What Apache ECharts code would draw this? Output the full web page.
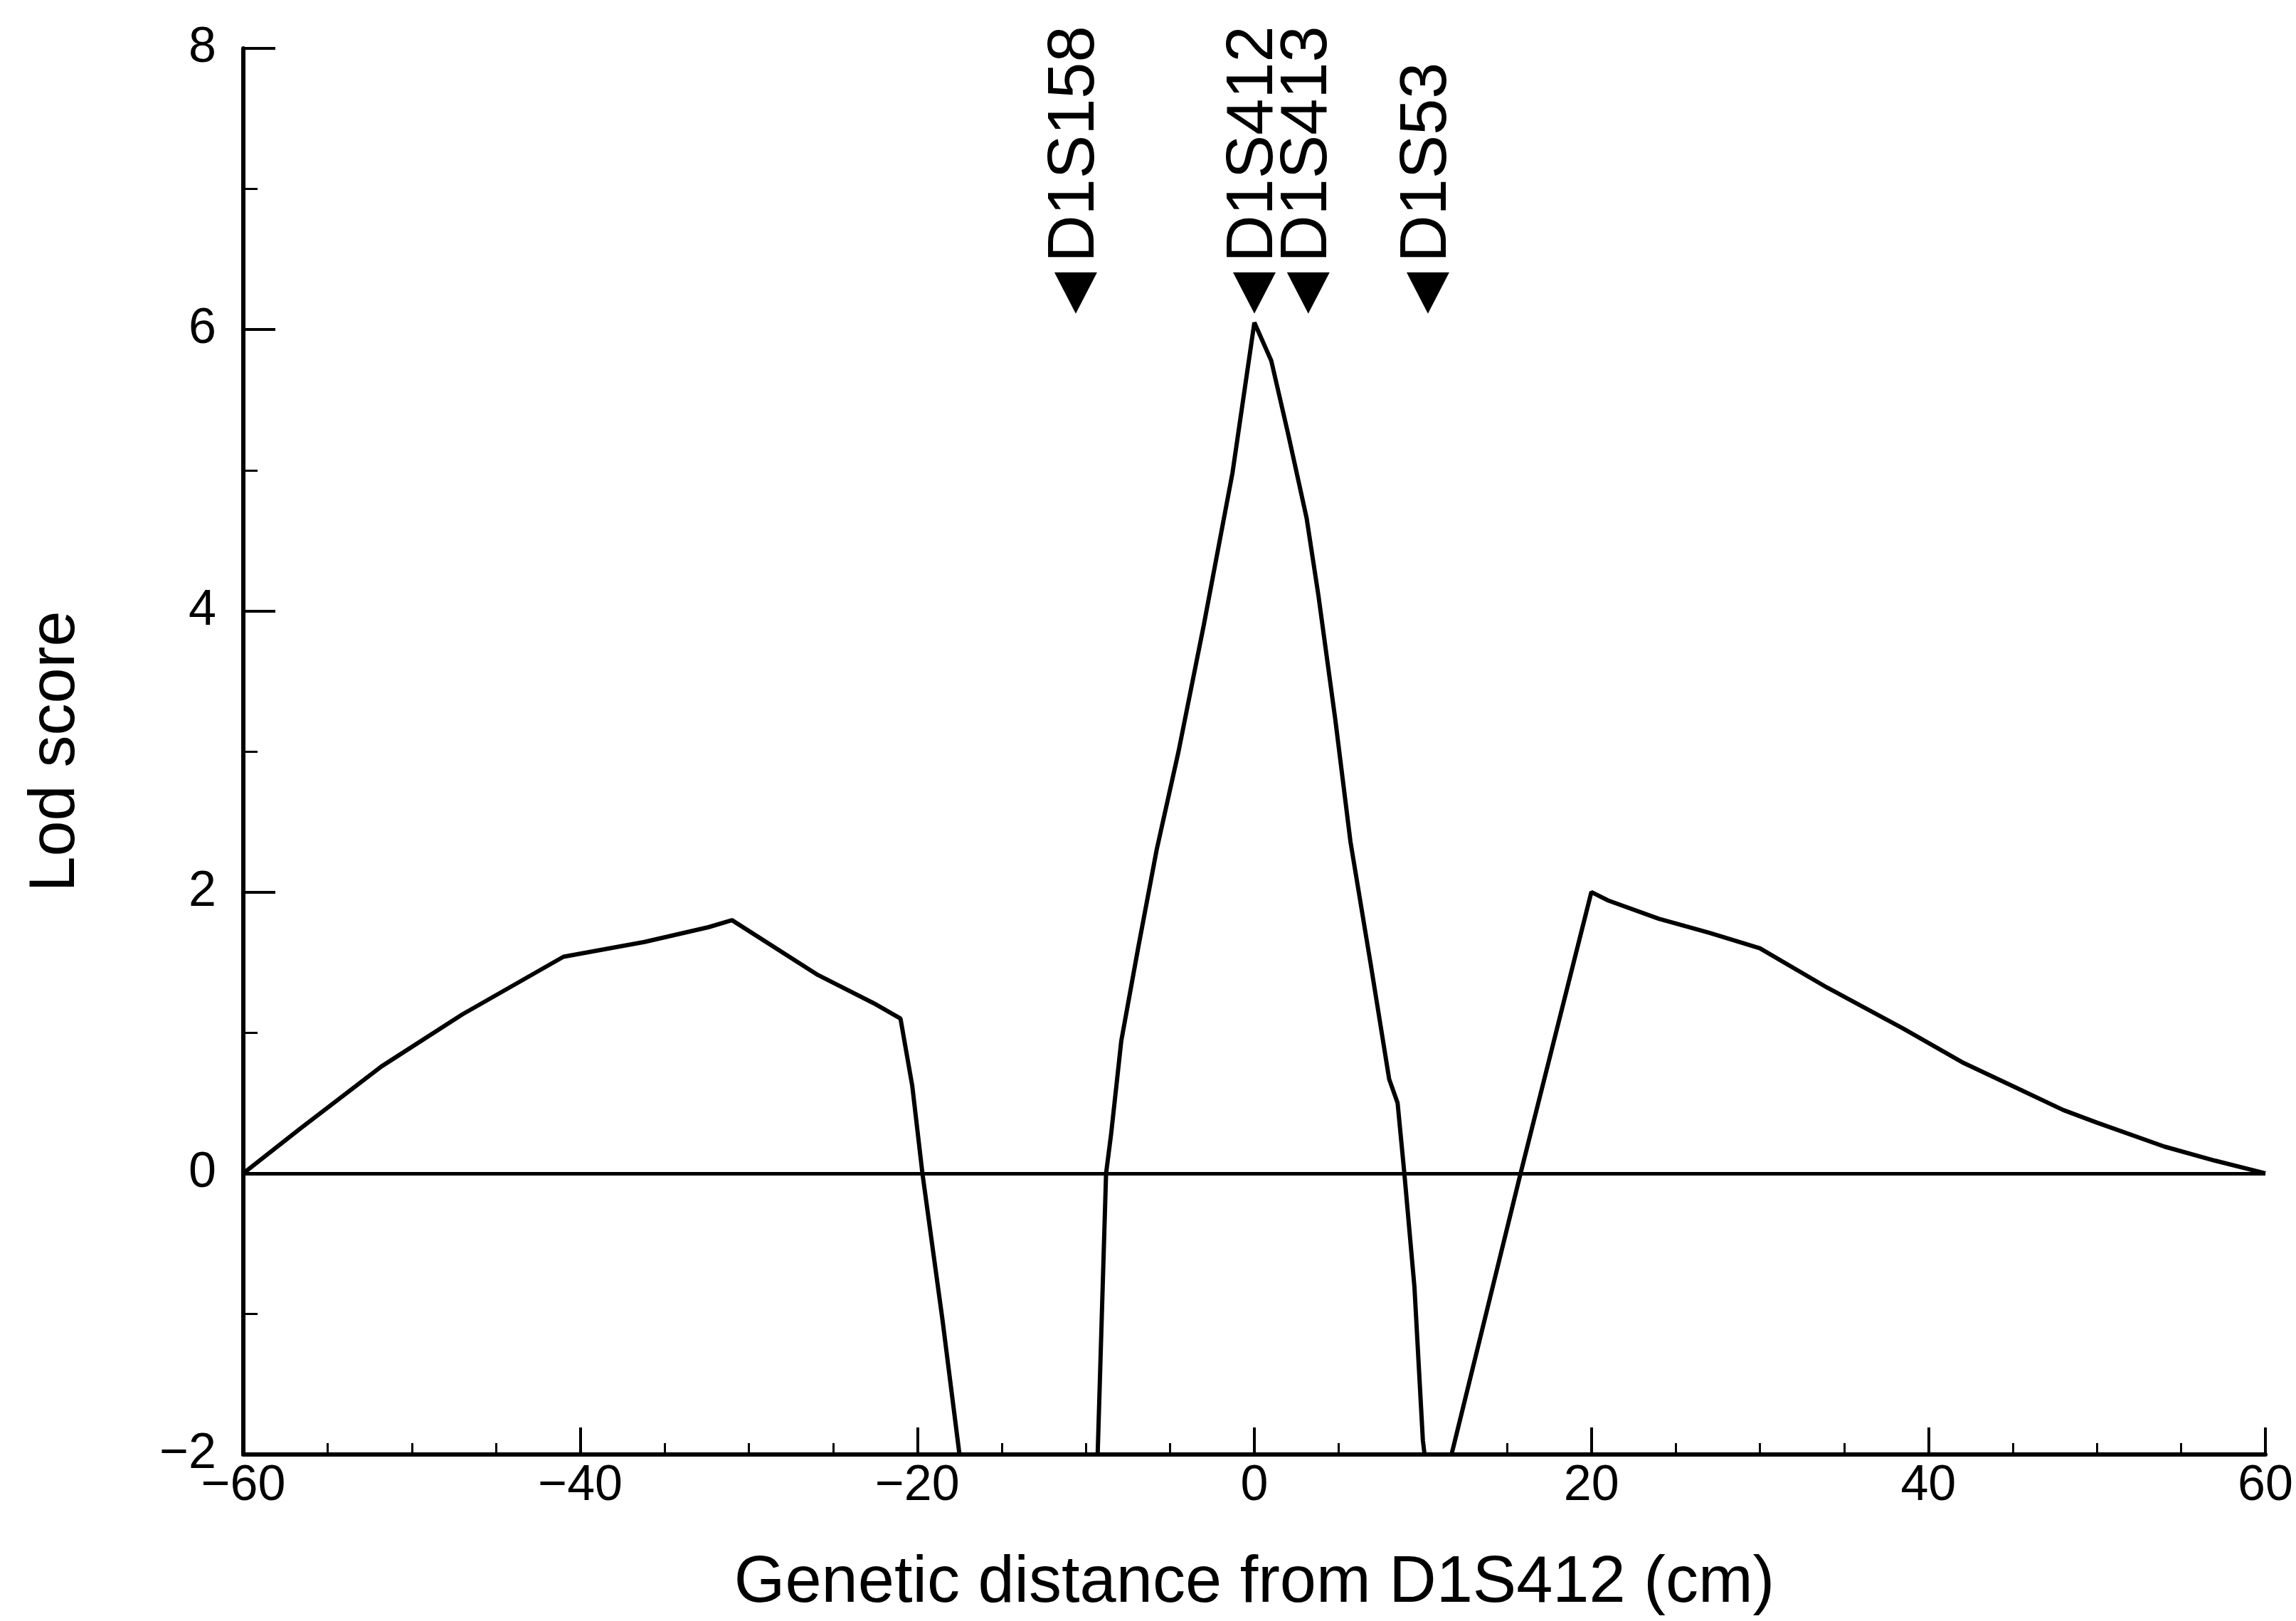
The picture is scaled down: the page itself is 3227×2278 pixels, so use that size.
<!DOCTYPE html>
<html>
<head>
<meta charset="utf-8">
<script src="https://cdn.jsdelivr.net/npm/echarts@6/dist/echarts.min.js"></script>
<style>
html,body{margin:0;padding:0;background:#fff;}
#chart{width:3227px;height:2278px;}
</style>
</head>
<body>
<div id="chart"></div>
<script>
// Genetic distance (cM) from D1S412 and the multipoint lod score
const positions = [-60, -56.6, -51.8, -47, -41, -36.2, -32.4, -31, -25.9, -22.6, -21, -20.3, -19.7, -18.5, -17.5,
  -9.3, -8.8, -8.5, -7.9, -6.9, -5.8, -4.5, -3.0, -1.3, 0, 1.0, 2.0, 3.1, 3.8, 4.8, 5.7, 6.9, 8.0, 8.5, 8.9, 9.5, 10.0, 10.1,
  11.7, 15.8, 20, 21, 24, 27, 30, 34, 38.5, 42, 45, 48, 50, 54, 57, 60];
const lodScores = [0, 0.32, 0.76, 1.13, 1.54, 1.645, 1.75, 1.8, 1.41, 1.21, 1.1, 0.62, 0, -1.05, -2,
  -2, 0, 0.28, 0.94, 1.6, 2.3, 3.0, 3.9, 4.98, 6.05, 5.78, 5.26, 4.66, 4.11, 3.23, 2.36, 1.49, 0.67, 0.5, 0, -0.81, -1.9, -2,
  -2, 0, 2.0, 1.94, 1.81, 1.71, 1.6, 1.32, 1.03, 0.79, 0.62, 0.45, 0.36, 0.19, 0.09, 0];

// Marker loci shown at the top of the chart
const markerNames = ['D1S158', 'D1S412', 'D1S413', 'D1S53'];
const markerPositions = [-10.6, 0, 3.2, 10.3];

// Tick labels
const xTickValues = [-60, -40, -20, 0, 20, 40, 60];
const yTickValues = [-2, 0, 2, 4, 6, 8];

const MARKER_ROW = 6.26; // layout height of the marker triangles (axis units)
const FONT = '"Liberation Sans", Arial, Helvetica, sans-serif';
const NARROW = '"Liberation Sans Narrow", "Liberation Sans", Arial, sans-serif';

const curveData = positions.map((x, i) => [x, lodScores[i]]);
const markerData = markerNames.map((n, i) => ({ name: n, value: [markerPositions[i], MARKER_ROW] }));
const fmt = v => (v < 0 ? '\u2212' + Math.abs(v) : String(v));

const chart = echarts.init(document.getElementById('chart'), null, { renderer: 'canvas' });
chart.setOption({
  backgroundColor: '#ffffff',
  animation: false,
  grid: { left: 342, right: 43, top: 68, bottom: 234, containLabel: false },
  xAxis: {
    type: 'value', min: -60, max: 60, interval: 20,
    name: 'Genetic distance from D1S412 (cm)',
    nameLocation: 'middle', nameGap: 136,
    nameTextStyle: { fontSize: 92, color: '#000', fontFamily: FONT },
    axisLine: { show: true, onZero: false, lineStyle: { color: '#000', width: 6 } },
    axisTick: { show: true, inside: true, length: 38, lineStyle: { color: '#000', width: 4 } },
    minorTick: { show: true, splitNumber: 4, length: 16, lineStyle: { color: '#000', width: 3 } },
    splitLine: { show: false },
    axisLabel: {
      fontSize: 70, color: '#000', fontFamily: NARROW, margin: 10,
      formatter: v => (xTickValues.indexOf(v) >= 0 ? fmt(v) : '')
    }
  },
  yAxis: {
    type: 'value', min: -2, max: 8, interval: 2,
    name: 'Lod score',
    nameLocation: 'middle', nameGap: 218, nameRotate: 90,
    nameTextStyle: { fontSize: 90, color: '#000', fontFamily: FONT },
    axisLine: { show: true, onZero: false, lineStyle: { color: '#000', width: 6 } },
    axisTick: { show: true, inside: true, length: 45, lineStyle: { color: '#000', width: 4 } },
    minorTick: { show: true, splitNumber: 2, length: 20, lineStyle: { color: '#000', width: 3 } },
    splitLine: { show: false },
    axisLabel: {
      fontSize: 70, color: '#000', fontFamily: NARROW, margin: 38,
      formatter: v => (yTickValues.indexOf(v) >= 0 ? fmt(v) : '')
    }
  },
  series: [
    {
      type: 'line',
      data: curveData,
      showSymbol: false,
      clip: true,
      lineStyle: { color: '#000', width: 6 },
      markLine: {
        silent: true,
        symbol: ['none', 'none'],
        label: { show: false },
        lineStyle: { color: '#000', width: 5, type: 'solid' },
        data: [{ yAxis: 0 }]
      },
      z: 3
    },
    {
      type: 'scatter',
      data: markerData,
      symbol: 'triangle',
      symbolRotate: 180,
      symbolSize: [60, 58],
      itemStyle: { color: '#000', opacity: 1 },
      label: {
        show: true,
        formatter: p => p.name,
        position: 'top',
        distance: 14,
        rotate: 90,
        align: 'left',
        verticalAlign: 'middle',
        fontSize: 92,
        color: '#000',
        fontFamily: FONT
      },
      z: 4
    }
  ]
});
</script>
</body>
</html>
